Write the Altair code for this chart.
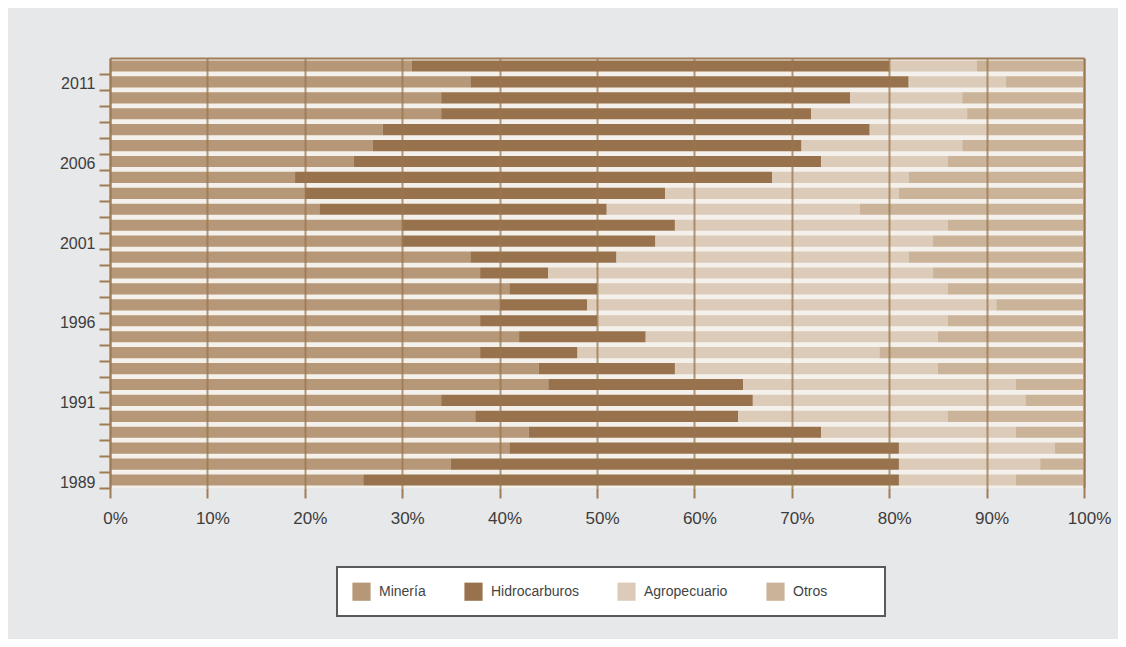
import altair as alt
import pandas as pd

# rows from bottom (index 0) to top (index 26)
filas = list(range(27))
etiquetas = {0: "1989", 5: "1991", 10: "1996", 15: "2001", 20: "2006", 25: "2011"}

series = ["Minería", "Hidrocarburos", "Agropecuario", "Otros"]
colores = ["#b69777", "#98724c", "#dccbb9", "#cab399"]

mineria = [26, 35, 41, 43, 37.5, 34, 45, 44, 38, 42, 38, 40, 41, 38, 37, 30, 30, 21.5, 20, 19, 25, 27, 28, 34, 34, 37, 31]
hidrocarburos = [55, 46, 40, 30, 27, 32, 20, 14, 10, 13, 12, 9, 9, 7, 15, 26, 28, 29.5, 37, 49, 48, 44, 50, 38, 42, 45, 49]
agropecuario = [12, 14.5, 16, 20, 21.5, 28, 28, 27, 31, 30, 36, 42, 36, 39.5, 30, 28.5, 28, 26, 24, 14, 13, 16.5, 12, 16, 11.5, 10, 9]
otros = [7, 4.5, 3, 7, 14, 6, 7, 15, 21, 15, 14, 9, 14, 15.5, 18, 15.5, 14, 23, 19, 18, 14, 12.5, 10, 12, 12.5, 8, 11]

rows = []
for i, f in enumerate(filas):
    for k, (s, vals) in enumerate(zip(series, [mineria, hidrocarburos, agropecuario, otros])):
        rows.append({"fila": f, "serie": s, "valor": vals[i], "orden": k})
df = pd.DataFrame(rows)

label_expr = "".join(f"datum.value == {k} ? '{v}' : " for k, v in etiquetas.items()) + "''"

brown = "#a07c56"
font = "Liberation Sans"

base = alt.Chart(df)

bars = base.mark_bar().encode(
    x=alt.X("sum(valor):Q", stack="normalize",
            scale=alt.Scale(domain=[0, 1], nice=False),
            axis=alt.Axis(format="%", values=[i / 10 for i in range(11)], title=None,
                          domain=False, tickSize=10, tickColor=brown, tickWidth=2,
                          grid=True, gridColor="#9a7650", gridWidth=2, gridOpacity=0.75,
                          labelPadding=12, labelFontSize=17, labelColor="#3c3c3c",
                          labelFont=font, labelFlush=False, labelOffset=5, zindex=1)),
    y=alt.Y("fila:O", sort="descending",
            scale=alt.Scale(paddingInner=0.3, paddingOuter=0.15),
            axis=alt.Axis(title=None, labelExpr=label_expr, domainColor=brown, domainWidth=2,
                          tickColor=brown, tickWidth=2, tickSize=11, tickOffset=8, labelOffset=-6,
                          labelPadding=4, labelFontSize=16, labelColor="#3c3c3c", labelFont=font,
                          grid=False, zindex=1)),
    color=alt.Color("serie:N", scale=alt.Scale(domain=series, range=colores),
                    legend=alt.Legend(title="x", titleOrient="right", titleColor="#ffffff",
                                      titleFontSize=14, titlePadding=35,
                                      orient="none", legendX=227, legendY=509,
                                      direction="horizontal", symbolType="square",
                                      symbolSize=330, symbolStrokeWidth=0, labelFontSize=14,
                                      labelFont=font, labelColor="#444444", columnPadding=38,
                                      labelOffset=8, padding=15, fillColor="#ffffff",
                                      strokeColor="#5a5a5a")),
    order=alt.Order("orden:Q"),
)

frame = base.mark_bar(opacity=0).encode(
    x=alt.X("sum(valor):Q", stack="normalize",
            axis=alt.Axis(orient="top", labels=False, ticks=False, grid=False, title=None,
                          domainColor=brown, domainWidth=2)),
    y=alt.Y("fila:O", sort="descending",
            axis=alt.Axis(orient="right", labels=False, ticks=False, grid=False, title=None,
                          domainColor=brown, domainWidth=2)),
    detail="serie:N",
    order=alt.Order("orden:Q"),
)

chart = alt.layer(bars, frame).resolve_axis(x="independent", y="independent").properties(
    width=974, height=430,
    autosize=alt.AutoSizeParams(type="none"),
    padding={"left": 102, "top": 50, "right": 34, "bottom": 151},
    background="#e7e8ea",
).configure_view(stroke=None, fill="#f4f0eb").configure_legend(strokeWidth=2)

chart.save("out.html", embed_options={"renderer": "svg", "actions": False})
